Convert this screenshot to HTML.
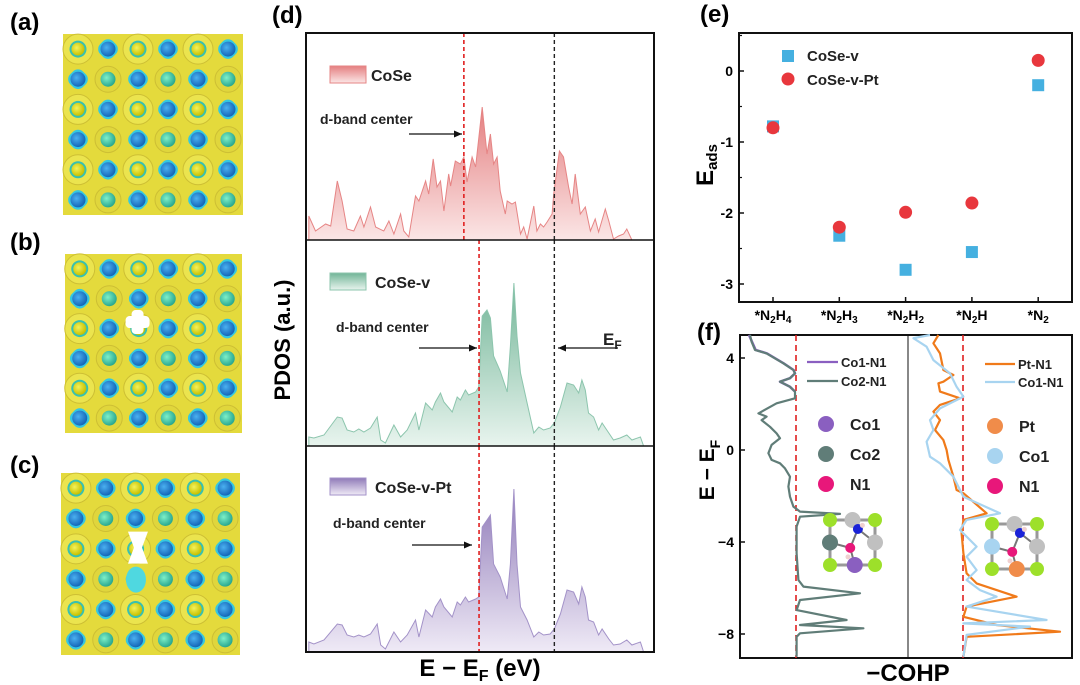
<!DOCTYPE html>
<html><head><meta charset="utf-8">
<style>
html,body{margin:0;padding:0;background:#fff;}
svg{display:block;font-family:"Liberation Sans",Arial,sans-serif;}
.b{font-weight:bold;}
</style></head>
<body>
<svg id="fig" width="1080" height="685" viewBox="0 0 1080 685" xmlns="http://www.w3.org/2000/svg">
<defs>
<linearGradient id="gR" x1="0" y1="0" x2="0" y2="1"><stop offset="0" stop-color="#e47f80"/><stop offset="1" stop-color="#fbe6e6"/></linearGradient>
<linearGradient id="gG" x1="0" y1="0" x2="0" y2="1"><stop offset="0" stop-color="#72b597"/><stop offset="1" stop-color="#e8f4ee"/></linearGradient>
<linearGradient id="gP" x1="0" y1="0" x2="0" y2="1"><stop offset="0" stop-color="#8f7ab8"/><stop offset="1" stop-color="#efeaf6"/></linearGradient>
<radialGradient id="yb" cx="0.4" cy="0.4" r="0.6"><stop offset="0" stop-color="#f4f25a"/><stop offset="1" stop-color="#c8c000"/></radialGradient>
<radialGradient id="bb" cx="0.4" cy="0.4" r="0.6"><stop offset="0" stop-color="#4ab0f0"/><stop offset="1" stop-color="#1566b8"/></radialGradient>
<radialGradient id="tb" cx="0.4" cy="0.4" r="0.6"><stop offset="0" stop-color="#7ef0c8"/><stop offset="1" stop-color="#2aa890"/></radialGradient>
</defs>
<g id="structs"></g>
<g id="pd"></g>
<g id="pe"></g>
<g id="pf"></g>
</svg>
<script>
// ---------- Panel (d) PDOS data ----------
const coseE=[-7.76,-7.55,-7.23,-7.07,-6.86,-6.71,-6.55,-6.34,-6.13,-6.02,-5.81,-5.65,-5.39,-5.23,-5.07,-4.86,-4.76,-4.6,-4.39,-4.28,-4.07,-3.97,-3.83,-3.71,-3.6,-3.49,-3.34,-3.28,-3.13,-2.97,-2.86,-2.76,-2.6,-2.49,-2.28,-2.13,-2.02,-1.92,-1.81,-1.71,-1.55,-1.49,-1.34,-1.23,-1.07,-0.97,-0.86,-0.65,-0.55,-0.44,-0.34,-0.23,-0.07,-0.02,0.16,0.29,0.45,0.56,0.66,0.82,0.98,1.14,1.29,1.4,1.61,1.72,1.87,2.03,2.19,2.29,2.45];
const coseV=[24,9,16,14,59,39,11,9,24,13,33,13,9,19,6,26,9,3,44,39,59,46,81,53,59,29,66,54,79,76,83,58,83,73,133,86,106,76,83,49,26,39,36,38,6,13,1,34,9,16,13,18,26,46,89,83,53,36,66,26,33,9,21,8,31,19,1,4,6,11,0];
const cosevX=[145,160,190,230,245,260,280,295,310,330,350,360,375,400,420,440,465,475,495,515,525,540,550,575,590,600,615,625,645,655,665,680,690,700,720,740,750,760,770,780,800,820,835,850,870,882,900,920,940,955,965,975,985,1000,1015,1025,1045,1060,1080,1100,1115,1140,1150];
const coseVV=[9,8,11,29,28,16,14,17,14,18,29,6,3,21,9,16,33,16,43,36,44,53,44,34,49,46,56,51,54,59,130,136,128,90,75,54,100,163,110,73,43,13,19,16,18,23,39,63,61,53,66,56,33,29,16,23,13,6,8,11,6,9,0];
const ptV=[10,8,12,28,27,17,15,17,15,18,28,7,3,20,10,17,32,15,42,35,45,53,45,35,50,47,55,50,53,55,125,132,137,88,75,53,88,163,88,45,32,15,20,17,18,23,38,62,60,48,65,55,32,30,17,23,13,7,8,12,7,10,0];
const cosevE=cosevX.map(x=>+((x-882)/95).toFixed(2));
const ptE=cosevE.slice();

// ---------- Panel (e) data ----------
const eCats=["*N2H4","*N2H3","*N2H2","*N2H","*N2"];
const eCoseV=[-0.78,-2.32,-2.8,-2.55,-0.2];
const eCoseVPt=[-0.8,-2.2,-1.99,-1.86,0.15];
const eTicks=[0,-1,-2,-3];

// ---------- Panel (f) COHP data ----------
const co2E=[5.0,4.71,4.35,4.2,3.77,3.48,3.33,3.12,2.97,2.75,2.54,2.25,2.03,1.59,1.45,1.3,1.01,0.72,0.51,0.22,-0.14,-0.43,-0.58,-0.8,-1.16,-1.59,-2.03,-2.46,-2.68,-2.78,-2.9,-3.33,-4.49,-5.65,-5.94,-6.23,-6.52,-6.96,-7.39,-7.61,-7.75,-7.97,-8.12,-8.99];
const co2V=[-2.3,-2.22,-2.05,-1.47,-0.63,-0.13,-0.05,-0.3,-0.8,-0.3,-0.05,-0.05,-0.97,-1.88,-1.47,-1.72,-1.3,-0.97,-0.8,-1.22,-1.38,-1.22,-0.8,-0.55,-0.3,-0.38,-0.3,-0.13,0.2,2.2,0.2,0.03,0.03,0.12,0.37,3.2,0.2,0.03,2.53,0.2,3.37,0.2,0.03,0.03];
const co1E=[5.0,4.71,4.35,4.2,3.77,3.48,3.33,3.12,2.97,2.75,2.54];
const co1V=[-2.35,-2.2,-2.02,-1.45,-0.62,-0.12,-0.05,-0.3,-0.8,-0.3,-0.05];
const ptnE=[5.0,4.64,4.2,3.48,3.26,2.97,2.9,2.54,2.25,1.96,1.67,1.3,0.87,0.43,0.0,-0.43,-1.16,-1.74,-1.88,-2.75,-3.04,-3.62,-4.49,-5.36,-5.8,-6.38,-6.81,-7.25,-7.61,-7.9,-8.12,-8.99];
const ptnV=[-1.23,-1.48,-1.15,-0.98,-0.48,-0.98,-1.23,-1.15,-0.15,-1.15,-1.48,-1.15,-1.4,-0.98,-0.82,-0.73,-0.48,-0.32,0.02,1.18,0.02,-0.07,0.02,0.18,0.68,2.68,0.18,0.02,1.68,4.85,0.18,0.02];
const c1nE=[5.0,4.86,4.49,3.91,3.33,2.75,2.32,1.81,1.3,0.87,0.36,-0.29,-0.58,-1.16,-2.03,-2.75,-3.04,-3.48,-4.2,-4.64,-5.22,-5.65,-6.09,-6.38,-6.81,-7.39,-7.54,-7.68,-8.04,-8.99];
const c1nV=[-1.65,-2.48,-1.82,-1.48,-0.65,-0.32,0.02,-1.15,-1.65,-1.48,-1.82,-1.65,-1.15,-0.48,0.02,1.85,0.18,-0.15,0.68,0.18,0.68,0.18,0.85,1.68,0.18,4.18,0.02,3.35,0.18,0.02];
const fTicks=[4,0,-4,-8];

const NS="http://www.w3.org/2000/svg";
function mk(tag,attrs,parent,txt){const e=document.createElementNS(NS,tag);for(const k in attrs)e.setAttribute(k,attrs[k]);if(txt!==undefined)e.textContent=txt;parent.appendChild(e);return e;}

// ---------- Structure panels ----------
const S=document.getElementById('structs');
function structure(x0,y0,w,h,name,hole){
  const g=mk('g',{},S);
  
  
  mk('rect',{x:x0,y:y0,width:w,height:h,fill:'#e4da3c'},g);
  const cw=w/6,ch=h/6;
  for(let r=0;r<6;r++)for(let c=0;c<6;c++){
    const cx=x0+cw*(c+0.5),cy=y0+ch*(r+0.5);
    const type=(r%2===0)?(c%2===0?'Y':'B'):(c%2===0?'B':'T');
    if(type==='Y'){
      mk('circle',{cx:cx,cy:cy,r:15,fill:'#ebe44e',stroke:'#cdbf34','stroke-width':1},g);
      mk('circle',{cx:cx,cy:cy,r:8.5,fill:'#38c0b0'},g);
      mk('circle',{cx:cx,cy:cy,r:6.5,fill:'url(#yb)'},g);
    }else if(type==='B'){
      mk('rect',{x:cx-9,y:cy-9,width:18,height:18,rx:7,fill:'#35c8e0',transform:`rotate(45 ${cx} ${cy})`},g);
      mk('circle',{cx:cx,cy:cy,r:7.5,fill:'url(#bb)'},g);
    }else{
      mk('circle',{cx:cx,cy:cy,r:13,fill:'#e0d63c',stroke:'#cdbf34','stroke-width':1},g);
      mk('circle',{cx:cx,cy:cy,r:7.5,fill:'url(#tb)'},g);
    }
  }
  if(hole==='b'){
    const cx=x0+w*0.41,cy=y0+h*0.38;
    mk('rect',{x:cx-6,y:cy-12,width:12,height:24,rx:4,fill:'#fff'},g);
    mk('rect',{x:cx-12,y:cy-6,width:24,height:12,rx:4,fill:'#fff'},g);
  }
  if(hole==='c'){
    const cx=x0+w*0.43,cy=y0+h*0.41;
    mk('path',{d:`M${cx-10},${cy-16} L${cx+10},${cy-16} L${cx+4},${cy} L${cx+10},${cy+16} L${cx-10},${cy+16} L${cx-4},${cy} Z`,fill:'#fff'},g);
    mk('ellipse',{cx:cx-2,cy:cy+32,rx:10,ry:13,fill:'#4fd8e0'},g);
  }
}
structure(63,34,180,181,'structure-a','');
structure(65,254,177,179,'structure-b','b');
structure(61,473,179,182,'structure-c','c');
[['(a)',10,30],['(b)',10,250],['(c)',10,473]].forEach(([t,x,y])=>{
  const e=mk('text',{x:x,y:y,'font-size':24,class:'b'},S,t);
  
  
});

// ---------- Panel (d) ----------
const D=document.getElementById('pd');
const dX0=306,dX1=654,dEmin=-7.85,dEmax=3.15;
function dx(e){return dX0+(e-dEmin)/(dEmax-dEmin)*(dX1-dX0);}
const panels=[
 {E:coseE,V:coseV,top:33,base:240,fill:'url(#gR)',stroke:'#e68585',name:'CoSe',dc:-2.86},
 {E:cosevE,V:coseVV,top:240,base:446,fill:'url(#gG)',stroke:'#8cc5ad',name:'CoSe-v',dc:-2.38},
 {E:ptE,V:ptV,top:446,base:652,fill:'url(#gP)',stroke:'#a392c8',name:'CoSe-v-Pt',dc:-2.38}
];
panels.forEach((p,i)=>{
  const dy=v=>p.base-v;
  let d=`M${dx(p.E[0])},${p.base}`;
  p.E.forEach((e,j)=>{d+=` L${dx(e).toFixed(1)},${dy(p.V[j]).toFixed(1)}`;});
  d+=` L${dx(p.E[p.E.length-1])},${p.base} Z`;
  const a=mk('path',{d:d,fill:p.fill,stroke:p.stroke,'stroke-width':1},D);
  
  
  const dl=mk('line',{x1:dx(p.dc),x2:dx(p.dc),y1:p.top,y2:p.base,stroke:'#e02020','stroke-width':1.6,'stroke-dasharray':'4,3'},D);
  
  
  const el=mk('line',{x1:dx(0),x2:dx(0),y1:p.top,y2:p.base,stroke:'#222','stroke-width':1.4,'stroke-dasharray':'4,3'},D);
  
  
});
const fr=mk('rect',{x:dX0,y:33,width:dX1-dX0,height:619,fill:'none',stroke:'#111','stroke-width':2},D);

mk('line',{x1:dX0,x2:dX1,y1:240,y2:240,stroke:'#111','stroke-width':1.5},D);
mk('line',{x1:dX0,x2:dX1,y1:446,y2:446,stroke:'#111','stroke-width':1.5},D);
[[66,'url(#gR)','#e68585','CoSe',371],[273,'url(#gG)','#8cc5ad','CoSe-v',375],[478,'url(#gP)','#a392c8','CoSe-v-Pt',375]].forEach(([y,f,s,t,tx])=>{
  const r=mk('rect',{x:330,y:y,width:36,height:17,fill:f,stroke:s},D);
  
  const tt=mk('text',{x:tx,y:y+15,'font-size':16,class:'b',fill:'#222'},D,t);
  
});
function arrow(x1,x2,y,name){
  const g=mk('g',{},D);
  mk('line',{x1:x1,x2:x2,y1:y,y2:y,stroke:'#111','stroke-width':1.2},g);
  const dir=x2>x1?-1:1;
  mk('path',{d:`M${x2},${y} L${x2+dir*8},${y-3.5} L${x2+dir*8},${y+3.5} Z`,fill:'#111'},g);
}
[[320,124],[336,332],[333,528]].forEach(([x,y])=>{
  const t=mk('text',{x:x,y:y,'font-size':14,class:'b',fill:'#222'},D,'d-band center');
  
});
arrow(409,462,134,'d-band-arrow-cose');
arrow(419,477,348,'d-band-arrow-cosev');
arrow(412,472,545,'d-band-arrow-pt');
arrow(618,558,348,'ef-arrow');
const ef=mk('text',{x:603,y:345,'font-size':17,class:'b',fill:'#222'},D);ef.innerHTML='E<tspan font-size="12" dy="4">F</tspan>';

const dlab=mk('text',{x:272,y:23,'font-size':24,class:'b'},D,'(d)');
const yl=mk('text',{x:0,y:0,'font-size':22,class:'b','text-anchor':'middle',transform:'translate(290,340) rotate(-90)'},D,'PDOS (a.u.)');

const xl=mk('text',{x:480,y:676,'font-size':24,class:'b','text-anchor':'middle'},D);xl.innerHTML='E − E<tspan font-size="16" dy="5">F</tspan><tspan dy="-5"> (eV)</tspan>';


// ---------- Panel (e) ----------
const Eg=document.getElementById('pe');
const eX0=739,eX1=1072,eY0=33,eY1=302;
function ey(v){return 71-v*71;}
function ex(i){return 773+i*66.3;}
const ef2=mk('rect',{x:eX0,y:eY0,width:eX1-eX0,height:eY1-eY0,fill:'none',stroke:'#111','stroke-width':2},Eg);

eTicks.forEach(t=>{
  mk('line',{x1:eX0,x2:eX0+5,y1:ey(t),y2:ey(t),stroke:'#111','stroke-width':1.5},Eg);
  if(ey(t+0.5)>eY0) mk('line',{x1:eX0,x2:eX0+3,y1:ey(t+0.5),y2:ey(t+0.5),stroke:'#111','stroke-width':1.2},Eg);
  const l=mk('text',{x:eX0-6,y:ey(t)+5,'font-size':14,class:'b','text-anchor':'end'},Eg,String(t));
  
});
eCats.forEach((c,i)=>{
  mk('line',{x1:ex(i),x2:ex(i),y1:eY1,y2:eY1-5,stroke:'#111','stroke-width':1.5},Eg);
  const m=c.match(/^\*N(\d)(H)?(\d)?$/);
  const t=mk('text',{x:ex(i),y:320,'font-size':14,class:'b','text-anchor':'middle'},Eg);
  t.innerHTML='*N<tspan font-size="10" dy="3">'+m[1]+'</tspan>'+(m[2]?'<tspan dy="-3">H</tspan>'+(m[3]?'<tspan font-size="10" dy="3">'+m[3]+'</tspan>':''):'');
  
});
eCoseV.forEach((v,i)=>{
  const r=mk('rect',{x:ex(i)-6,y:ey(v)-6,width:12,height:12,fill:'#45b0e0'},Eg);
  
});
eCoseVPt.forEach((v,i)=>{
  const c=mk('circle',{cx:ex(i),cy:ey(v),r:6.5,fill:'#e8373d'},Eg);
  
});
const l1=mk('rect',{x:782,y:50,width:12,height:12,fill:'#45b0e0'},Eg);
const l2=mk('circle',{cx:788,cy:79,r:6.5,fill:'#e8373d'},Eg);
const l3=mk('text',{x:807,y:61,'font-size':15,class:'b',fill:'#222'},Eg,'CoSe-v');
const l4=mk('text',{x:807,y:85,'font-size':15,class:'b',fill:'#222'},Eg,'CoSe-v-Pt');
const ey1=mk('text',{x:0,y:0,'font-size':24,class:'b','text-anchor':'middle',transform:'translate(713,165) rotate(-90)'},Eg);ey1.innerHTML='E<tspan font-size="15" dy="4">ads</tspan>';

const elb=mk('text',{x:700,y:22,'font-size':24,class:'b'},Eg,'(e)');

// ---------- Panel (f) ----------
const F=document.getElementById('pf');
const fX0=740,fX1=1072,fY0=335,fY1=658,fMid=908;
function fy(e){return 450-e*23;}
function fxL(v){return 796+v*20;}
function fxR(v){return 963+v*20;}
const ff=mk('rect',{x:fX0,y:fY0,width:fX1-fX0,height:fY1-fY0,fill:'none',stroke:'#111','stroke-width':2},F);

mk('line',{x1:fMid,x2:fMid,y1:fY0,y2:fY1,stroke:'#111','stroke-width':1},F);
[796,963].forEach(x=>{const z=mk('line',{x1:x,x2:x,y1:fY0,y2:fY1,stroke:'#e02020','stroke-width':1.6,'stroke-dasharray':'6,4'},F);});
fTicks.forEach(t=>{
  mk('line',{x1:fX0,x2:fX0+5,y1:fy(t),y2:fy(t),stroke:'#111','stroke-width':1.5},F);
  const l=mk('text',{x:fX0-6,y:fy(t)+5,'font-size':14,class:'b','text-anchor':'end'},F,String(t).replace('-','−'));
  
});
function curve(E,V,fx,col,w,name){
  let d='';E.forEach((e,i)=>{d+=(i?' L':'M')+fx(V[i]).toFixed(1)+','+fy(e).toFixed(1);});
  const p=mk('path',{d:d,fill:'none',stroke:col,'stroke-width':w,'stroke-linejoin':'round'},F);
  
}
curve(co1E,co1V,fxL,'#8a5fc0',2.5,'cohp-co1-n1-left');
curve(co2E,co2V,fxL,'#607d78',2.2,'cohp-co2-n1');
curve(ptnE,ptnV,fxR,'#f07a1a',2.2,'cohp-pt-n1');
curve(c1nE,c1nV,fxR,'#a8d4f0',2.2,'cohp-co1-n1-right');
[[807,838,362,'#8a5fc0','Co1-N1'],[807,838,381,'#607d78','Co2-N1'],[985,1015,364,'#f07a1a','Pt-N1'],[985,1015,382,'#a8d4f0','Co1-N1']].forEach(([a,b,y,c,t])=>{
  const g=mk('g',{},F);
  mk('line',{x1:a,x2:b,y1:y,y2:y,stroke:c,'stroke-width':2.2},g);
  mk('text',{x:b+3,y:y+5,'font-size':13,class:'b',fill:'#222'},g,t);
});
[[826,424,'#8a5fc0','Co1'],[826,454,'#607d78','Co2'],[826,484,'#e8177a','N1'],[995,426,'#f08c4a','Pt'],[995,456,'#a8d4f0','Co1'],[995,486,'#e8177a','N1']].forEach(([x,y,c,t])=>{
  const g=mk('g',{},F);
  mk('circle',{cx:x,cy:y,r:8,fill:c},g);
  mk('text',{x:x+24,y:y+6,'font-size':16,class:'b',fill:'#222'},g,t);
});
function mol(x0,y0,c1,c2,name){
  const g=mk('g',{},F);
  const s=45;
  const G=[[0,0],[s,0],[0,s],[s,s]].map(([a,b])=>[x0+a,y0+b]);
  mk('path',{d:`M${x0},${y0} h${s} v${s} h${-s} Z`,fill:'none',stroke:'#999','stroke-width':3},g);
  mk('path',{d:`M${x0},${y0+s/2} L${x0+s*0.45},${y0+s*0.62} L${x0+s*0.62},${y0+s*0.2} L${x0+s},${y0+s/2} M${x0+s*0.45},${y0+s*0.62} L${x0+s*0.55},${y0+s} M${x0+s/2},${y0} L${x0+s*0.62},${y0+s*0.2}`,fill:'none',stroke:'#777','stroke-width':2},g);
  G.forEach(([a,b])=>mk('circle',{cx:a,cy:b,r:7,fill:'#9de02a'},g));
  mk('circle',{cx:x0+s/2,cy:y0,r:8,fill:'#c0c0c0'},g);
  mk('circle',{cx:x0+s,cy:y0+s/2,r:8,fill:'#c0c0c0'},g);
  mk('circle',{cx:x0,cy:y0+s/2,r:8,fill:c2},g);
  mk('circle',{cx:x0+s*0.55,cy:y0+s,r:8,fill:c1},g);
  mk('circle',{cx:x0+s*0.45,cy:y0+s*0.62,r:5,fill:'#e8177a'},g);
  mk('circle',{cx:x0+s*0.62,cy:y0+s*0.2,r:5,fill:'#1a22d8'},g);
  mk('circle',{cx:x0+s*0.4,cy:y0+s*0.82,r:2.5,fill:'#f0d0d0'},g);
  mk('circle',{cx:x0+s*0.72,cy:y0+s*0.12,r:2.5,fill:'#f0d0d0'},g);
}
mol(830,520,'#8a5fc0','#607d78','molecule-cosev');
mol(992,524,'#f08c4a','#a8d4f0','molecule-cosevpt');
const fyl=mk('text',{x:0,y:0,'font-size':21,class:'b','text-anchor':'middle',transform:'translate(714,470) rotate(-90)'},F);fyl.innerHTML='E − E<tspan font-size="14" dy="6">F</tspan>';

const fxl=mk('text',{x:908,y:681,'font-size':24,class:'b','text-anchor':'middle'},F,'−COHP');

const flb=mk('text',{x:697,y:340,'font-size':24,class:'b'},F,'(f)');
</script>
</body></html>
